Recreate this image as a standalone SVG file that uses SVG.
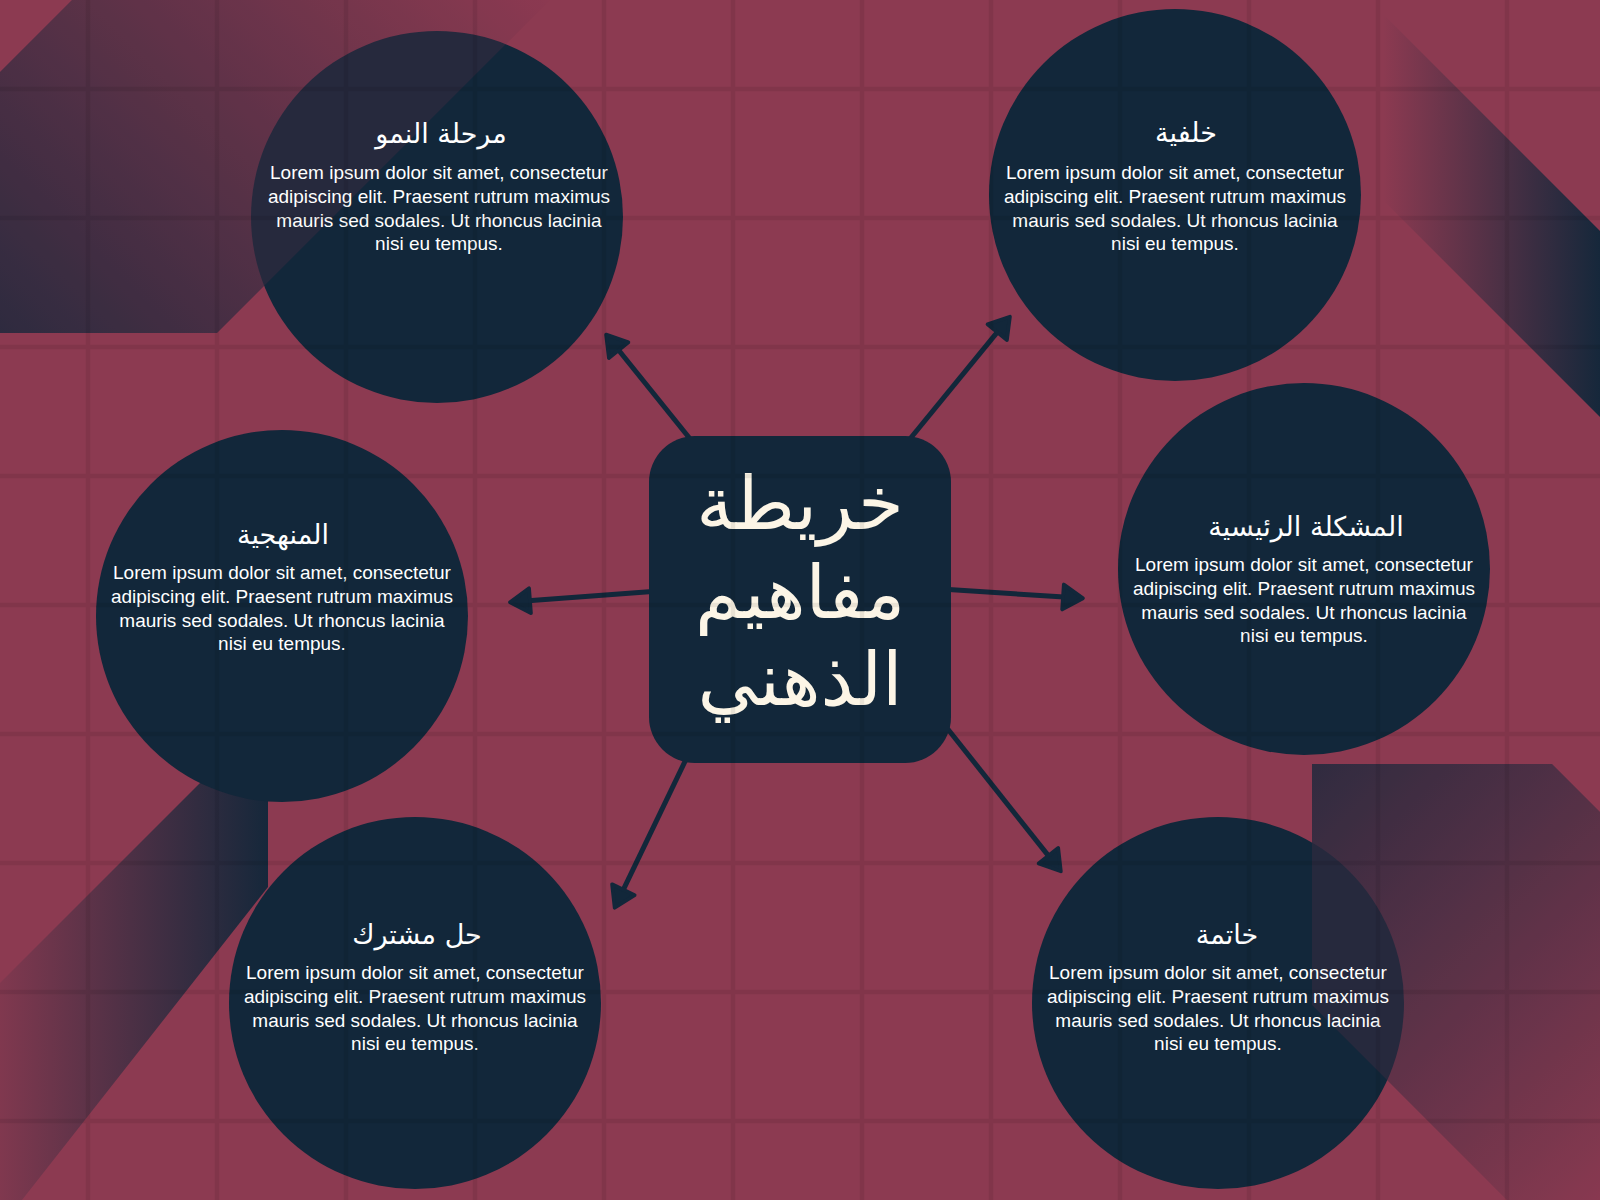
<svg xmlns="http://www.w3.org/2000/svg" width="1600" height="1200" viewBox="0 0 1600 1200">
  <defs>
    <style>
      .bg { fill: #8C3A51; }
      .node { fill: #12273A; }
      .title { font-family: "DejaVu Sans", "Noto Sans", sans-serif; font-size: 27px; fill: #FFFFFF; text-anchor: middle; }
      .body { font-family: "Liberation Sans", Arial, sans-serif; font-size: 19px; fill: #FFFFFF; text-anchor: middle; }
      .main { font-family: "DejaVu Sans", "Noto Sans", sans-serif; font-size: 74px; fill: #FCF5E6; text-anchor: middle; }
      .conn { stroke: #12273A; stroke-width: 5; fill: none; marker-end: url(#arrow); }
      .grid { stroke: #000000; stroke-opacity: 0.075; stroke-width: 4.5; fill: none; }
      .tint { fill: #8C3A51; fill-opacity: 0.16; }
    </style>
    <marker id="arrow" markerUnits="userSpaceOnUse" markerWidth="40" markerHeight="40" viewBox="-6 -16 32 32" refX="4" refY="0" orient="auto">
      <path d="M0,-10 L16,0 L0,10 Z" fill="#12273A" stroke="#12273A" stroke-width="3" stroke-linejoin="round"/>
    </marker>
    <linearGradient id="gD1" gradientUnits="userSpaceOnUse" x1="0" y1="333" x2="442" y2="-109">
      <stop offset="0" stop-color="#12273A" stop-opacity="0.92"/>
      <stop offset="1" stop-color="#12273A" stop-opacity="0"/>
    </linearGradient>
    <linearGradient id="gD2" gradientUnits="userSpaceOnUse" x1="1383" y1="0" x2="1600" y2="0">
      <stop offset="0" stop-color="#12273A" stop-opacity="0"/>
      <stop offset="1" stop-color="#12273A" stop-opacity="0.97"/>
    </linearGradient>
    <linearGradient id="gD3" gradientUnits="userSpaceOnUse" x1="-30" y1="0" x2="268" y2="0">
      <stop offset="0" stop-color="#12273A" stop-opacity="0"/>
      <stop offset="1" stop-color="#12273A" stop-opacity="0.97"/>
    </linearGradient>
    <linearGradient id="gD4" gradientUnits="userSpaceOnUse" x1="1312" y1="764" x2="1690" y2="1142">
      <stop offset="0" stop-color="#12273A" stop-opacity="0.9"/>
      <stop offset="1" stop-color="#12273A" stop-opacity="0"/>
    </linearGradient>
    <polygon id="pD1" points="0,72 72,0 550,0 217,333 0,333"/>
    <polygon id="pD4" points="1312,764 1552,764 1600,812 1600,1200 1507,1200 1312,1005"/>
  </defs>

  <rect class="bg" x="0" y="0" width="1600" height="1200"/>

  <g id="decor-back">
    <polygon points="1383,14 1600,231 1600,417 1383,200" fill="url(#gD2)"/>
    <polygon points="268,715 268,887 22,1200 0,1200 0,983" fill="url(#gD3)"/>
  </g>

  <g id="connectors">
    <line class="conn" x1="695" y1="445" x2="615.5" y2="346.3"/>
    <line class="conn" x1="905" y1="445" x2="1000.4" y2="328.3"/>
    <line class="conn" x1="659" y1="591" x2="525" y2="601.1"/>
    <line class="conn" x1="941" y1="589" x2="1068" y2="597.3"/>
    <line class="conn" x1="690" y1="751" x2="621.2" y2="894.2"/>
    <line class="conn" x1="943" y1="723" x2="1051.5" y2="859.6"/>
  </g>

  <g id="node-center">
    <rect class="node" x="649" y="436" width="302" height="327" rx="46" ry="46"/>
    <text class="main" x="800" y="529">خريطة</text>
    <text class="main" x="800" y="618">مفاهيم</text>
    <text class="main" x="800" y="705">الذهني</text>
  </g>

  <g id="node-growth">
    <circle class="node" cx="437" cy="217" r="186"/>
    <g id="decor-top-left">
      <use href="#pD1" fill="url(#gD1)"/>
      <use href="#pD1" class="tint"/>
    </g>
    <text class="title" x="441" y="143">مرحلة النمو</text>
    <text class="body" x="439" y="179">Lorem ipsum dolor sit amet, consectetur</text>
    <text class="body" x="439" y="203">adipiscing elit. Praesent rutrum maximus</text>
    <text class="body" x="439" y="227">mauris sed sodales. Ut rhoncus lacinia</text>
    <text class="body" x="439" y="250">nisi eu tempus.</text>
  </g>

  <g id="node-background">
    <circle class="node" cx="1175" cy="195" r="186"/>
    <text class="title" x="1186" y="142">خلفية</text>
    <text class="body" x="1175" y="179">Lorem ipsum dolor sit amet, consectetur</text>
    <text class="body" x="1175" y="203">adipiscing elit. Praesent rutrum maximus</text>
    <text class="body" x="1175" y="227">mauris sed sodales. Ut rhoncus lacinia</text>
    <text class="body" x="1175" y="250">nisi eu tempus.</text>
  </g>

  <g id="node-method">
    <circle class="node" cx="282" cy="616" r="186"/>
    <text class="title" x="283" y="544">المنهجية</text>
    <text class="body" x="282" y="579">Lorem ipsum dolor sit amet, consectetur</text>
    <text class="body" x="282" y="603">adipiscing elit. Praesent rutrum maximus</text>
    <text class="body" x="282" y="627">mauris sed sodales. Ut rhoncus lacinia</text>
    <text class="body" x="282" y="650">nisi eu tempus.</text>
  </g>

  <g id="node-problem">
    <circle class="node" cx="1304" cy="569" r="186"/>
    <text class="title" x="1306" y="536">المشكلة الرئيسية</text>
    <text class="body" x="1304" y="571">Lorem ipsum dolor sit amet, consectetur</text>
    <text class="body" x="1304" y="595">adipiscing elit. Praesent rutrum maximus</text>
    <text class="body" x="1304" y="619">mauris sed sodales. Ut rhoncus lacinia</text>
    <text class="body" x="1304" y="642">nisi eu tempus.</text>
  </g>

  <g id="node-solution">
    <circle class="node" cx="415" cy="1003" r="186"/>
    <text class="title" x="417" y="944">حل مشترك</text>
    <text class="body" x="415" y="979">Lorem ipsum dolor sit amet, consectetur</text>
    <text class="body" x="415" y="1003">adipiscing elit. Praesent rutrum maximus</text>
    <text class="body" x="415" y="1027">mauris sed sodales. Ut rhoncus lacinia</text>
    <text class="body" x="415" y="1050">nisi eu tempus.</text>
  </g>

  <g id="node-conclusion">
    <circle class="node" cx="1218" cy="1003" r="186"/>
    <g id="decor-bottom-right">
      <use href="#pD4" fill="url(#gD4)"/>
      <use href="#pD4" class="tint"/>
    </g>
    <text class="title" x="1227" y="944">خاتمة</text>
    <text class="body" x="1218" y="979">Lorem ipsum dolor sit amet, consectetur</text>
    <text class="body" x="1218" y="1003">adipiscing elit. Praesent rutrum maximus</text>
    <text class="body" x="1218" y="1027">mauris sed sodales. Ut rhoncus lacinia</text>
    <text class="body" x="1218" y="1050">nisi eu tempus.</text>
  </g>

  <g id="grid">
    <path class="grid" d="M88,0V1200 M217,0V1200 M346,0V1200 M475,0V1200 M604,0V1200 M733,0V1200 M862,0V1200 M991,0V1200 M1120,0V1200 M1249,0V1200 M1378,0V1200 M1507,0V1200 M0,89H1600 M0,218H1600 M0,347H1600 M0,476H1600 M0,605H1600 M0,734H1600 M0,863H1600 M0,992H1600 M0,1121H1600"/>
  </g>
</svg>
